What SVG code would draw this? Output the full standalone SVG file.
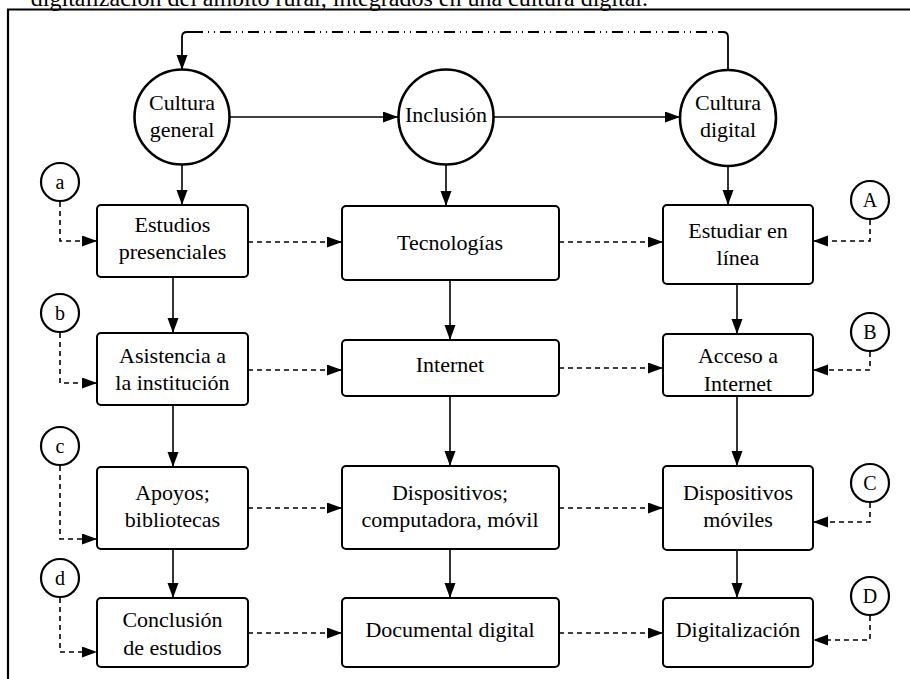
<svg xmlns="http://www.w3.org/2000/svg" width="910" height="679" viewBox="0 0 910 679">
<style>
text{font-family:"Liberation Serif","Times New Roman",serif;fill:#000;text-anchor:middle}
.t{font-size:22px}
.s{font-size:20px}
.box{fill:#fff;stroke:#000;stroke-width:2}
.big{fill:#fff;stroke:#000;stroke-width:2.6}
.sm{fill:#fff;stroke:#000;stroke-width:2.2}
.sol{fill:none;stroke:#000;stroke-width:1.6;marker-end:url(#ah)}
.dsh{fill:none;stroke:#000;stroke-width:1.6;stroke-dasharray:5 4;marker-end:url(#ah)}
</style>
<defs>
<marker id="ah" markerUnits="userSpaceOnUse" markerWidth="16" markerHeight="12" refX="15" refY="5.5" orient="auto">
<path d="M0,0 L15,5.5 L0,11 z" fill="#000"/>
</marker>
</defs>
<rect width="910" height="679" fill="#fff"/>
<text x="648" y="6" style="font-size:24px;text-anchor:end">digitalización del ámbito rural, integrados en una cultura digital.</text>
<path d="M8,680 V9.5 H912" fill="none" stroke="#000" stroke-width="2.2"/>
<g id="connectors">
<path d="M728,70 V37 Q728,32 723,32 H719" fill="none" stroke="#000" stroke-width="1.8"/>
<path d="M719,32 H192" fill="none" stroke="#000" stroke-width="1.8" stroke-dasharray="1 5 1 5 11 5"/>
<path d="M192,32 H187 Q182,32 182,37 V70" fill="none" stroke="#000" stroke-width="1.8" marker-end="url(#ah)"/>
<path class="sol" d="M230,117 H398"/>
<path class="sol" d="M493,117 H680"/>
<path class="sol" d="M182,165 V205"/>
<path class="sol" d="M446,165 V206"/>
<path class="sol" d="M728,166 V205"/>
<path class="sol" d="M173,277 V333"/>
<path class="sol" d="M173,405 V467"/>
<path class="sol" d="M173,549 V598"/>
<path class="sol" d="M450,280 V340"/>
<path class="sol" d="M450,396 V466"/>
<path class="sol" d="M450,549 V598"/>
<path class="sol" d="M737,284 V334"/>
<path class="sol" d="M737,396 V466"/>
<path class="sol" d="M737,550 V598"/>
<path class="dsh" d="M248,242 H342"/>
<path class="dsh" d="M559,242 H663"/>
<path class="dsh" d="M248,370 H342"/>
<path class="dsh" d="M559,368 H663"/>
<path class="dsh" d="M248,508 H342"/>
<path class="dsh" d="M559,508 H663"/>
<path class="dsh" d="M248,633 H342"/>
<path class="dsh" d="M559,633 H663"/>
<path class="dsh" d="M60,202 V241 H97"/>
<path class="dsh" d="M60,333 V383 H97"/>
<path class="dsh" d="M60,466 V539 H97"/>
<path class="dsh" d="M60,598 V652 H97"/>
<path class="dsh" d="M870,220 V241 H813"/>
<path class="dsh" d="M870,352 V370 H813"/>
<path class="dsh" d="M870,503 V522 H813"/>
<path class="dsh" d="M870,616 V640 H813"/>
</g>
<g id="cultura-general"><circle class="big" cx="182" cy="117" r="47.5"/><text class="t" x="182" y="110">Cultura</text><text class="t" x="182" y="137">general</text></g>
<g id="inclusion"><circle class="big" cx="446" cy="117" r="47.5"/><text class="t" x="446" y="122">Inclusión</text></g>
<g id="cultura-digital"><circle class="big" cx="728" cy="118" r="48"/><text class="t" x="728" y="110">Cultura</text><text class="t" x="728" y="137">digital</text></g>
<g id="estudios-presenciales"><rect class="box" x="97" y="205" width="151" height="72" rx="4"/><text class="t" x="172.5" y="232">Estudios</text><text class="t" x="172.5" y="259">presenciales</text></g>
<g id="tecnologias"><rect class="box" x="342" y="206" width="217" height="74" rx="4"/><text class="t" x="450" y="250">Tecnologías</text></g>
<g id="estudiar-en-linea"><rect class="box" x="663" y="205" width="150" height="79" rx="4"/><text class="t" x="738" y="238">Estudiar en</text><text class="t" x="738" y="265">línea</text></g>
<g id="asistencia"><rect class="box" x="97" y="333" width="151" height="72" rx="4"/><text class="t" x="172.5" y="363">Asistencia a</text><text class="t" x="172.5" y="390">la institución</text></g>
<g id="internet"><rect class="box" x="342" y="340" width="217" height="56" rx="4"/><text class="t" x="450" y="372">Internet</text></g>
<g id="acceso-internet"><rect class="box" x="663" y="334" width="150" height="62" rx="4"/><text class="t" x="738" y="363">Acceso a</text><text class="t" x="738" y="391">Internet</text></g>
<g id="apoyos"><rect class="box" x="97" y="467" width="151" height="82" rx="4"/><text class="t" x="172.5" y="500">Apoyos;</text><text class="t" x="172.5" y="527">bibliotecas</text></g>
<g id="dispositivos"><rect class="box" x="342" y="466" width="217" height="83" rx="4"/><text class="t" x="450" y="500">Dispositivos;</text><text class="t" x="450" y="527">computadora, móvil</text></g>
<g id="dispositivos-moviles"><rect class="box" x="663" y="466" width="150" height="84" rx="4"/><text class="t" x="738" y="500">Dispositivos</text><text class="t" x="738" y="527">móviles</text></g>
<g id="conclusion"><rect class="box" x="97" y="598" width="151" height="69" rx="4"/><text class="t" x="172.5" y="627">Conclusión</text><text class="t" x="172.5" y="655">de estudios</text></g>
<g id="documental-digital"><rect class="box" x="342" y="598" width="217" height="69" rx="4"/><text class="t" x="450" y="637">Documental digital</text></g>
<g id="digitalizacion"><rect class="box" x="663" y="598" width="150" height="69" rx="4"/><text class="t" x="738" y="637">Digitalización</text></g>
<g id="a"><circle class="sm" cx="60" cy="182" r="19"/><text class="s" x="60" y="189">a</text></g>
<g id="b"><circle class="sm" cx="60" cy="313" r="19"/><text class="s" x="60" y="320">b</text></g>
<g id="c"><circle class="sm" cx="60" cy="446" r="19"/><text class="s" x="60" y="453">c</text></g>
<g id="d"><circle class="sm" cx="60" cy="578" r="19"/><text class="s" x="60" y="585">d</text></g>
<g id="A"><circle class="sm" cx="870" cy="200" r="19"/><text class="s" x="870" y="207">A</text></g>
<g id="B"><circle class="sm" cx="870" cy="332" r="19"/><text class="s" x="870" y="339">B</text></g>
<g id="C"><circle class="sm" cx="870" cy="483" r="19"/><text class="s" x="870" y="490">C</text></g>
<g id="D"><circle class="sm" cx="870" cy="596" r="19"/><text class="s" x="870" y="603">D</text></g>
</svg>
